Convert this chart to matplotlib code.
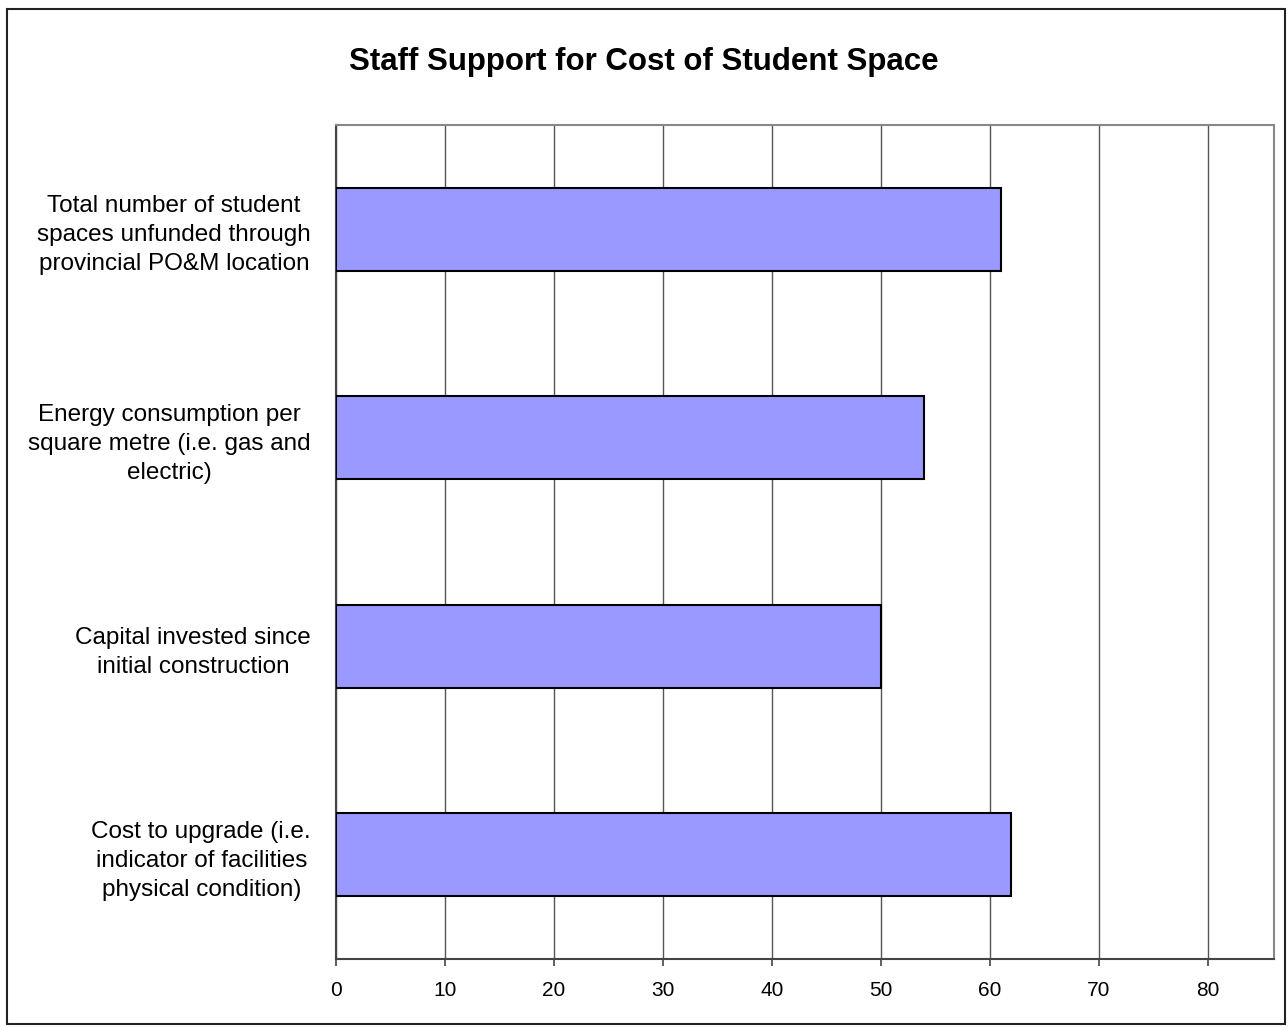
import matplotlib.pyplot as plt
from matplotlib.patches import Rectangle

plt.rcParams['font.family'] = ['Liberation Sans', 'DejaVu Sans']

# data
categories = [
    "Total number of student\nspaces unfunded through\nprovincial PO&M location",
    "Energy consumption per\nsquare metre (i.e. gas and\nelectric)",
    "Capital invested since\ninitial construction",
    "Cost to upgrade (i.e.\nindicator of facilities\nphysical condition)",
]
values = [61, 54, 50, 62]
xticks = [0, 10, 20, 30, 40, 50, 60, 70, 80]

fig = plt.figure(figsize=(12.88, 10.27), dpi=100)
ax = fig.add_axes([0.2609, 0.0662, 0.7282, 0.8121])

pos = list(range(len(categories)))
ax.barh(pos, values, height=0.4, color='#9999FF', edgecolor='black',
        linewidth=1.5, zorder=3)

ax.set_xlim(0, 86.1)
ax.set_ylim(3.5, -0.5)
ax.set_xticks(xticks)
ax.set_xticklabels([str(t) for t in xticks], fontsize=15)
ax.set_yticks(pos)
ax.set_yticklabels(categories, fontsize=17.5, multialignment='center',
                   linespacing=1.42)
ax.tick_params(axis='y', length=0, pad=18)
ax.tick_params(axis='x', length=5, width=1.2, color='#444444', pad=11)

ax.grid(axis='x', color='#555555', linewidth=1.0, zorder=0)
ax.set_axisbelow(True)
for s in ['top', 'right']:
    ax.spines[s].set_color('#888888')
    ax.spines[s].set_linewidth(1.5)
for s in ['left', 'bottom']:
    ax.spines[s].set_color('#444444')
    ax.spines[s].set_linewidth(1.5)

fig.text(0.4995, 0.9396, "Staff Support for Cost of Student Space",
         ha='center', va='center', fontsize=22.5, fontweight='bold')

# outer chart frame
fig.patches.append(Rectangle((0.0054, 0.0029), 0.9923, 0.9883,
                             transform=fig.transFigure, fill=False,
                             edgecolor='#222222', linewidth=1.5))

fig.savefig('out.png', dpi=100)
